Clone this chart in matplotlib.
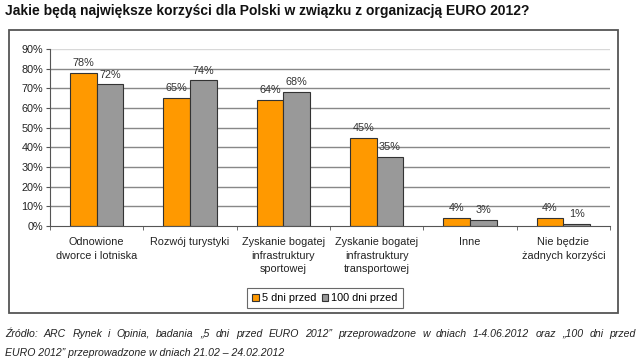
import matplotlib
matplotlib.use("Agg")
import matplotlib.pyplot as plt
import numpy as np
from matplotlib.patches import Rectangle
from matplotlib.ticker import FixedLocator, NullFormatter

plt.rcParams['font.family'] = ['Liberation Sans', 'DejaVu Sans']

categories = ["Odnowione\ndworce i lotniska", "Rozwój turystyki",
              "Zyskanie bogatej\ninfrastruktury\nsportowej",
              "Zyskanie bogatej\ninfrastruktury\ntransportowej",
              "Inne", "Nie będzie\nżadnych korzyści"]
series_names = ["5 dni przed", "100 dni przed"]
five_days = [78, 65, 64, 45, 4, 4]
hundred_days = [72, 74, 68, 35, 3, 1]
yticks = [0, 10, 20, 30, 40, 50, 60, 70, 80, 90]
title = "Jakie będą największe korzyści dla Polski w związku z organizacją EURO 2012?"
source_line1 = "Źródło: ARC Rynek i Opinia, badania „5 dni przed EURO 2012” przeprowadzone w dniach 1-4.06.2012 oraz „100 dni przed"
source_line2 = "EURO 2012” przeprowadzone w dniach 21.02 – 24.02.2012"

W, H = 640, 362
fig = plt.figure(figsize=(W / 100, H / 100), dpi=100)

# chart frame
fig.patches.append(Rectangle((9 / W, 1 - 313 / H), 609 / W, 283 / H,
                             transform=fig.transFigure, fill=False,
                             edgecolor="#555555", linewidth=1.3, zorder=0))

ax = fig.add_axes([50 / W, 1 - 226 / H, 560 / W, 177 / H])
x = np.arange(len(categories))
bw = 0.285
c1, c2 = "#FF9900", "#999999"
b1 = ax.bar(x - bw / 2, five_days, bw, color=c1, edgecolor="#333333", linewidth=0.8, zorder=3, label=series_names[0])
b2 = ax.bar(x + bw / 2, hundred_days, bw, color=c2, edgecolor="#333333", linewidth=0.8, zorder=3, label=series_names[1])

for bars, vals in ((b1, five_days), (b2, hundred_days)):
    for rect, v in zip(bars, vals):
        ax.annotate(f"{v}%", (rect.get_x() + rect.get_width() / 2, v),
                    xytext=(0, 3.5), textcoords="offset points",
                    ha="center", va="bottom", fontsize=7.8, color="#333333", zorder=4)

ax.set_ylim(0, 90)
ax.set_xlim(-0.5, len(categories) - 0.5)
ax.set_yticks(yticks)
ax.set_yticklabels([f"{t}%" for t in yticks], fontsize=7.8, color="#222222")
for t in yticks[1:]:
    ax.axhline(t, color="#888888" if t < 90 else "#d8d8d8", linewidth=1.0, zorder=1)

ax.xaxis.set_major_locator(FixedLocator(x))
ax.set_xticklabels(categories, fontsize=7.8, color="#222222", linespacing=1.45, va="top")
ax.tick_params(axis="x", which="major", length=0, pad=8)
ax.xaxis.set_minor_locator(FixedLocator(np.arange(-0.5, len(categories), 1.0)))
ax.xaxis.set_minor_formatter(NullFormatter())
ax.tick_params(axis="x", which="minor", length=3, color="#555555", direction="out")
ax.tick_params(axis="y", length=3, color="#555555", direction="out", pad=2)

for s in ("top", "right"):
    ax.spines[s].set_visible(False)
ax.spines["left"].set_color("#555555")
ax.spines["bottom"].set_color("#555555")
ax.spines["left"].set_zorder(5)
ax.spines["bottom"].set_zorder(5)

leg = fig.legend(handles=[b1, b2], labels=series_names, loc="center",
                 bbox_to_anchor=(325 / W, 1 - 298 / H), ncol=2, fontsize=7.8,
                 frameon=True, fancybox=False, edgecolor="#444444",
                 handlelength=0.6, handleheight=0.6, handletextpad=0.3,
                 columnspacing=0.5, borderpad=0.45, borderaxespad=0)
leg.get_frame().set_linewidth(0.8)

fig.text(5 / W, 1 - 11 / H, title, fontsize=10, fontweight="bold", ha="left", va="center", color="#111111")

# justified first source line
renderer = fig.canvas.get_renderer()
words = source_line1.split(" ")
src_kw = dict(fontsize=7.6, style="italic", ha="left", va="center", color="#222222")
x_left, x_right, y1 = 5, 636, 1 - 334 / H
word_texts = [fig.text(0, y1, w_, **src_kw) for w_ in words]
widths = [t.get_window_extent(renderer).width for t in word_texts]
gap = (x_right - x_left - sum(widths)) / (len(words) - 1)
cur = x_left
for t, wd in zip(word_texts, widths):
    t.set_x(cur / W)
    cur += wd + gap
fig.text(5 / W, 1 - 353 / H, source_line2, **src_kw)

fig.savefig("out.png", dpi=100)
